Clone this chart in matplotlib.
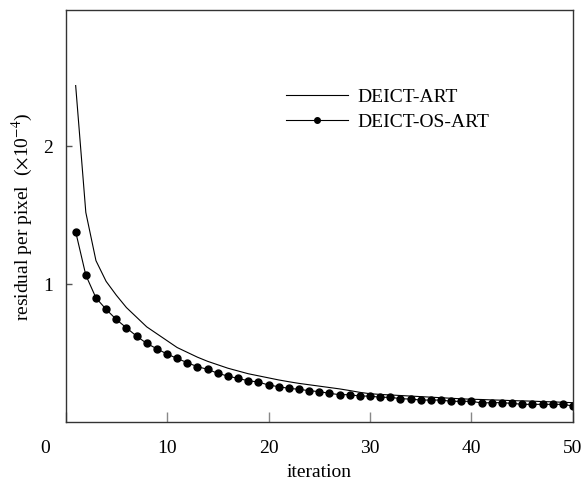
import numpy as np
import matplotlib
matplotlib.use('Agg')
import matplotlib.pyplot as plt
import matplotlib.transforms as mtransforms

plt.rcParams['font.family'] = ['Liberation Serif', 'DejaVu Serif']
plt.rcParams['mathtext.fontset'] = 'stix'

# iteration numbers
iters = np.arange(1, 51)

# residual per pixel (x 1e-4)
art = [2.44, 1.52, 1.17, 1.02, 0.92, 0.83, 0.76, 0.69, 0.64, 0.59,
       0.54, 0.505, 0.47, 0.44, 0.415, 0.39, 0.37, 0.35, 0.335, 0.32,
       0.305, 0.292, 0.28, 0.27, 0.26, 0.25, 0.24, 0.228, 0.215, 0.205,
       0.20, 0.196, 0.192, 0.188, 0.184, 0.180, 0.176, 0.172, 0.168, 0.165,
       0.163, 0.160, 0.158, 0.155, 0.153, 0.151, 0.148, 0.146, 0.143, 0.140]

os_art = [1.38, 1.065, 0.90, 0.817, 0.744, 0.683, 0.623, 0.570, 0.531, 0.493,
          0.461, 0.430, 0.401, 0.382, 0.353, 0.333, 0.316, 0.299, 0.290, 0.268,
          0.256, 0.244, 0.237, 0.227, 0.220, 0.208, 0.198, 0.198, 0.188, 0.188,
          0.179, 0.179, 0.169, 0.166, 0.159, 0.159, 0.159, 0.150, 0.150, 0.150,
          0.138, 0.140, 0.140, 0.135, 0.128, 0.128, 0.128, 0.128, 0.128, 0.116]

xticks = [0, 10, 20, 30, 40, 50]
yticks = [1, 2]

fig = plt.figure(figsize=(5.86, 4.87), dpi=100)
ax = fig.add_axes([0.1118, 0.1335, 0.8660, 0.8451])

ax.plot(iters, art, color='black', lw=0.8, label='DEICT-ART')
ax.plot(iters, os_art, color='black', lw=0.8, marker='o', markersize=5,
        label='DEICT-OS-ART')

ax.set_xlim(0, 50)
ax.set_ylim(0, 2.985)
ax.set_xticks(xticks)
ax.set_yticks(yticks)
ax.set_xticklabels([str(t) for t in xticks])
ax.set_yticklabels([str(t) for t in yticks])

ax.tick_params(axis='x', direction='in', length=7, width=1, color='#888888',
               labelsize=14, pad=13)
ax.tick_params(axis='y', direction='in', length=4, width=1, color='#555555',
               labelsize=14, pad=9)

# shared origin label sits left of the corner
lab0 = ax.get_xticklabels()[0]
lab0.set_transform(lab0.get_transform() +
                   mtransforms.ScaledTranslation(-20 / 100, 0, fig.dpi_scale_trans))

for s in ax.spines.values():
    s.set_color('#333333')
    s.set_linewidth(1.0)

ax.set_xlabel('iteration', fontsize=14, labelpad=5)
ax.set_ylabel(r'residual per pixel  ($\times$10$^{-4}$)', fontsize=14, labelpad=6)

leg = ax.legend(loc='upper left', bbox_to_anchor=(0.434, 0.81), frameon=False,
                fontsize=14, handlelength=3.2, handletextpad=0.5, numpoints=1,
                borderpad=0, borderaxespad=0, labelspacing=0.36)
for h in leg.legend_handles:
    h.set_markersize(4)

fig.savefig('out.png', dpi=100)
